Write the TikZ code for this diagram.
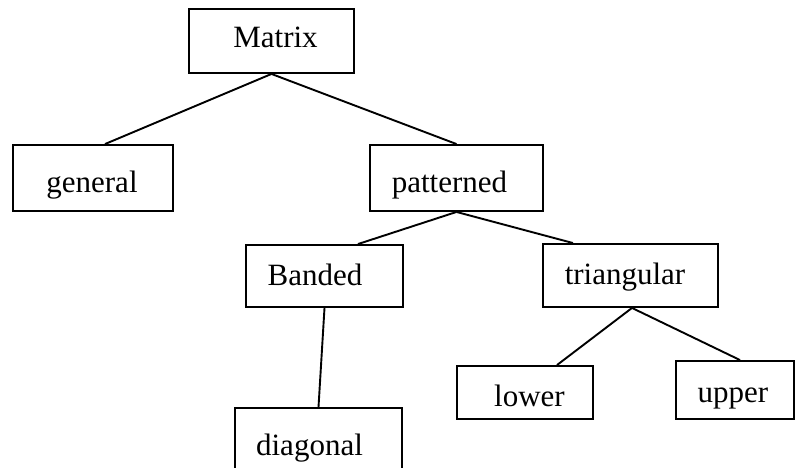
\documentclass[tikz,border=0pt]{standalone}
\usepackage{fontspec}
\setmainfont{Liberation Serif}
\usetikzlibrary{positioning}
\tikzset{
  box/.style={draw, line width=1.9pt, inner sep=0pt},
  word/.style={anchor=base, inner sep=0pt, font=\fontsize{31}{37}\selectfont},
  link/.style={line width=1.9pt}
}

\begin{document}
\begin{tikzpicture}[x=1pt, y=-1pt]
  \clip (0,0) rectangle (796,468);

  \node [box, minimum width=165pt, minimum height=64pt] (matrix) at (271.5,41) {};
  \node [box, minimum width=160pt, minimum height=66pt] (general) at (93,178) {};
  \node [box, minimum width=173pt, minimum height=66pt] (patterned) at (456.5,178) {};
  \node [box, minimum width=157pt, minimum height=62pt] (banded) at (324.5,276) {};
  \node [box, minimum width=175pt, minimum height=63pt] (triangular) at (630.5,275.5) {};
  \node [box, minimum width=136pt, minimum height=53pt] (lower) at (525,392.5) {};
  \node [box, minimum width=118pt, minimum height=58pt] (upper) at (735,390) {};
  \node [box, minimum width=167pt, minimum height=72pt] (diagonal) at (318.5,444) {};

  \node [word] (matrixtext) at (275.5,48) {Matrix};
  \node [word] (generaltext) at (92,193) {general};
  \node [word] (patternedtext) at (449.5,193) {patterned};
  \node [word] (bandedtext) at (315,285) {Banded};
  \node [word] (triangulartext) at (625,284) {triangular};
  \node [word] (lowertext) at (529.5,406) {lower};
  \node [word] (uppertext) at (733,402) {upper};
  \node [word] (diagonaltext) at (309.5,455) {diagonal};

  \draw [link] (matrix.south) -- ([xshift=12pt]general.north);
  \draw [link] (matrix.south) -- (patterned.north);
  \draw [link] (patterned.south) -- ([xshift=33.5pt]banded.north);
  \draw [link] (patterned.south) -- ([xshift=-57.5pt]triangular.north);
  \draw [link] (banded.south) -- (diagonal.north);
  \draw [link] ([xshift=1.5pt]triangular.south) -- ([xshift=32pt]lower.north);
  \draw [link] ([xshift=1.5pt]triangular.south) -- ([xshift=5pt]upper.north);
\end{tikzpicture}
\end{document}
